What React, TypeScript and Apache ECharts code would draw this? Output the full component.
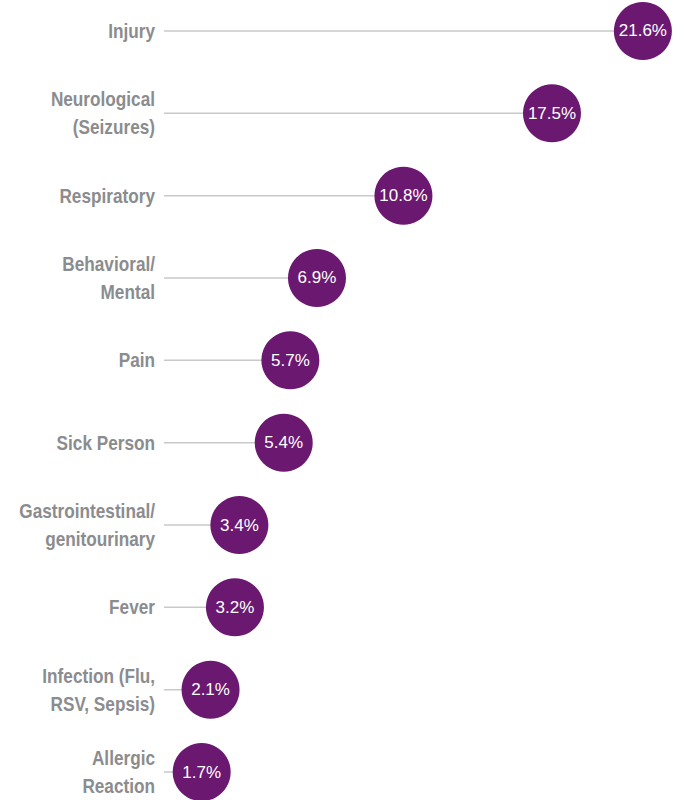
import React, { useEffect, useRef } from "react";
import * as echarts from "echarts";

const categories = [
  "Injury",
  "Neurological\n(Seizures)",
  "Respiratory",
  "Behavioral/\nMental",
  "Pain",
  "Sick Person",
  "Gastrointestinal/\ngenitourinary",
  "Fever",
  "Infection (Flu,\nRSV, Sepsis)",
  "Allergic\nReaction",
];
const values = [21.6, 17.5, 10.8, 6.9, 5.7, 5.4, 3.4, 3.2, 2.1, 1.7];

export default function App() {
  const ref = useRef<HTMLDivElement>(null);
  useEffect(() => {
    if (!ref.current) return;
    const chart = echarts.init(ref.current, null, { renderer: "svg" });
    chart.setOption({
      animation: false,
      grid: {
        left: 164,
        right: 0,
        top: -10.2,
        bottom: -13.2,
        containLabel: false,
        outerBoundsMode: "none",
      },
      xAxis: {
        type: "value",
        min: 0,
        max: 23.5,
        show: false,
      },
      yAxis: {
        type: "category",
        inverse: true,
        data: categories,
        axisLine: { show: false },
        axisTick: { show: false },
        axisLabel: { show: false },
      },
      series: [
        {
          type: "bar",
          data: values,
          barWidth: 1.5,
          itemStyle: { color: "#c9c9c9" },
          silent: true,
        },
        {
          type: "scatter",
          data: values,
          symbol: "circle",
          symbolSize: 58,
          itemStyle: { color: "#6b1870", opacity: 1 },
          label: {
            show: true,
            position: "inside",
            color: "#ffffff",
            fontFamily: "'Liberation Sans', Arial, sans-serif",
            fontSize: 17,
            formatter: (p: any) => p.value.toFixed(1) + "%",
          },
          z: 3,
        },
      ],
    });
    const x0 = chart.convertToPixel({ xAxisIndex: 0 }, 0) as number;
    const labels = categories.map((c) => {
      const y = chart.convertToPixel({ yAxisIndex: 0 }, c) as number;
      return {
        type: "text",
        x: x0 - 9,
        y: y,
        scaleX: 0.86,
        style: {
          text: c,
          align: "right",
          verticalAlign: "middle",
          fill: "#8b8c8e",
          fontFamily: "'Liberation Sans', Arial, sans-serif",
          fontWeight: "bold",
          fontSize: 20,
          lineHeight: 28,
        },
      };
    });
    chart.setOption({ graphic: labels });
    return () => chart.dispose();
  }, []);
  return (
    <div
      ref={ref}
      style={{ position: "fixed", left: 0, top: 0, width: 685, height: 800, background: "#fff" }}
    />
  );
}
